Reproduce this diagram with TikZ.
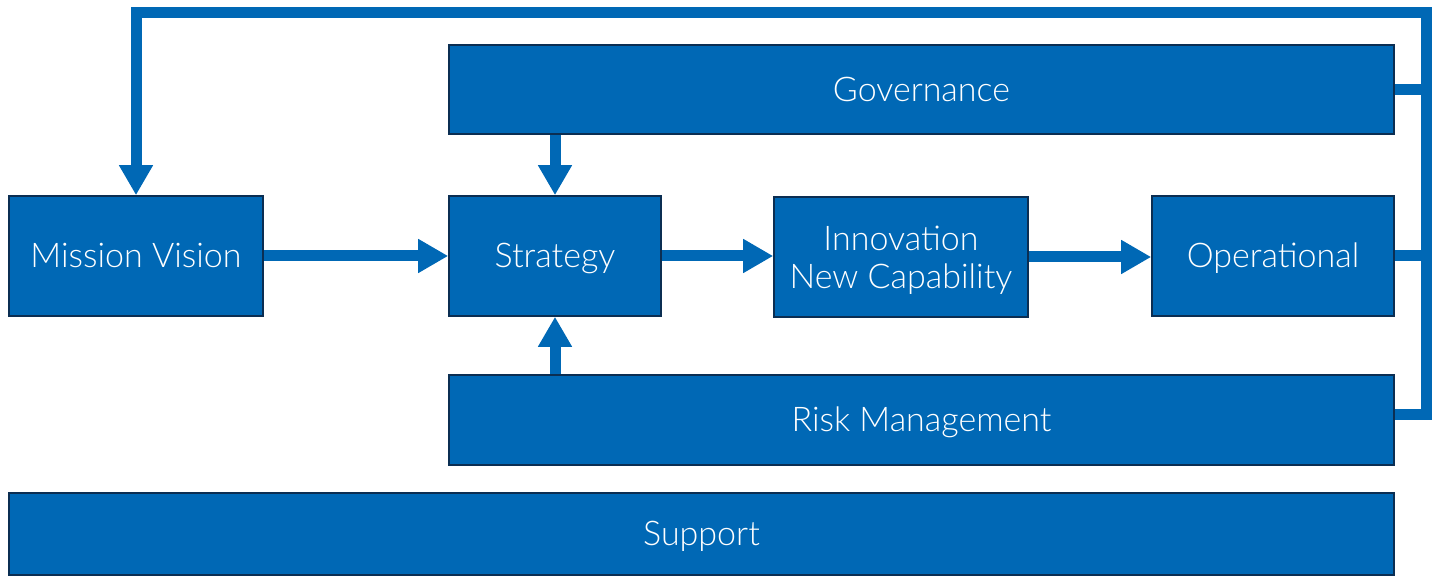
\documentclass[tikz,border=0pt]{standalone}
\usepackage{fontspec}
\setmainfont{Lato}[UprightFont=* Light]
\usetikzlibrary{arrows.meta}
\definecolor{boxblue}{HTML}{0068B5}
\definecolor{boxedge}{HTML}{0B2E52}
\begin{document}
\begin{tikzpicture}[x=0.5pt,y=-0.5pt]
\tikzstyle{every node}+=[inner sep=0pt]
\tikzstyle{block}=[draw=boxedge,line width=0.8pt,fill=boxblue,text=white,align=center,font=\fontsize{17}{19}\selectfont]
\tikzstyle{oneline}=[block,text height=12.5pt,text depth=0.5pt]
\tikzstyle{twoline}=[block,text height=32pt,text depth=0pt]
\tikzstyle{link}=[draw=boxblue,line width=5.5pt,line join=miter]
\tikzstyle{flow}=[link,-{Triangle[width=16pt,length=15pt]}]
\useasboundingbox (0,0) rectangle (1437,576);
\node [oneline,minimum width=127pt,minimum height=60pt] (mission) at (136,256) {Mission Vision};
\node [oneline,minimum width=106pt,minimum height=60pt] (strategy) at (555,256) {Strategy};
\node [twoline,minimum width=127pt,minimum height=60pt] (innov) at (901,257) {Innovation\\New Capability};
\node [oneline,minimum width=121pt,minimum height=60pt] (oper) at (1273,256) {Operational};
\node [oneline,minimum width=472.5pt,minimum height=44.5pt] (gov) at (921.5,89.5) {Governance};
\node [oneline,minimum width=472.5pt,minimum height=45pt] (risk) at (921.5,420) {Risk Management};
\node [oneline,minimum width=692.5pt,minimum height=41pt] (support) at (701.5,534) {Support};
\coordinate (corner) at (1426,13);
\draw [flow] (mission.east) -- (strategy.west);
\draw [flow] (strategy.east) -- (innov.west |- strategy.east);
\draw [flow] (innov.east) -- (oper.west |- innov.east);
\draw [flow] (gov.south -| strategy.north) -- (strategy.north);
\draw [flow] (risk.north -| strategy.south) -- (strategy.south);
\draw [link] (gov.east) -- (gov.east -| corner);
\draw [link] (oper.east) -- (oper.east -| corner);
\draw [flow] ([yshift=2.5pt]risk.east) -| (corner) -| (mission.north);
\end{tikzpicture}
\end{document}
